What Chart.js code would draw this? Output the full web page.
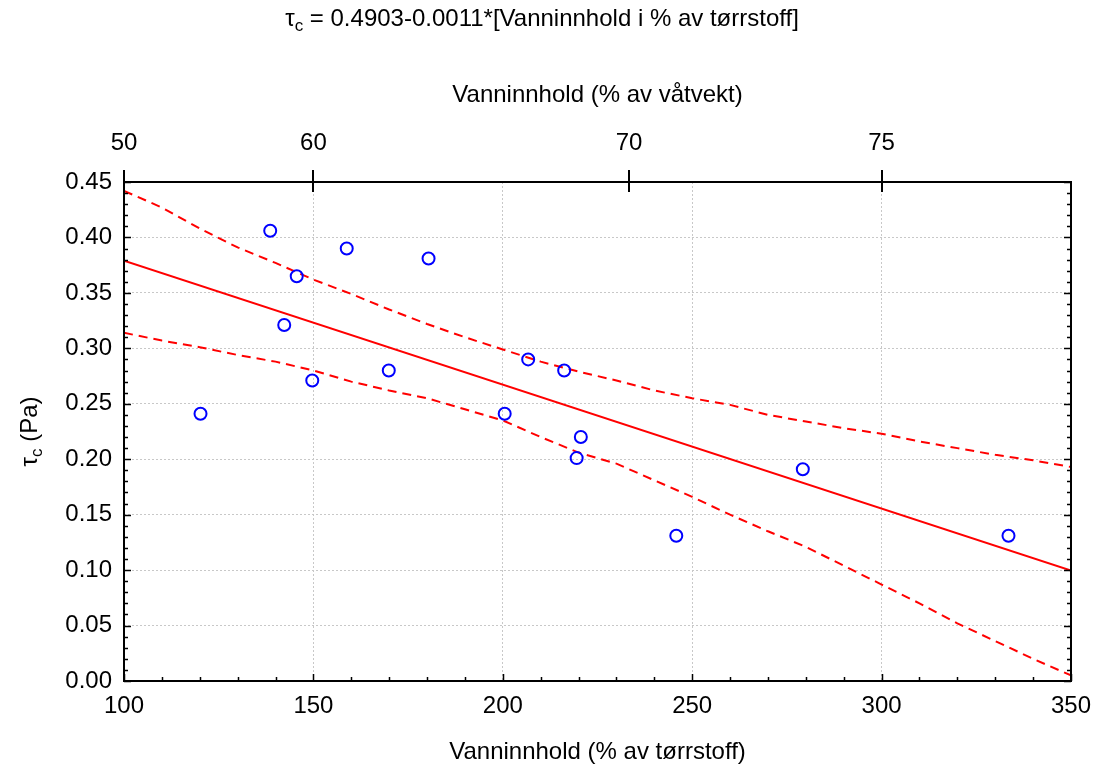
<!DOCTYPE html>
<html>
<head>
<meta charset="utf-8">
<script src="https://cdn.jsdelivr.net/npm/chart.js@4.4.0/dist/chart.umd.min.js"></script>
<style>
  html, body { margin: 0; padding: 0; background: #fff; }
</style>
</head>
<body>
<canvas id="chart" width="1093" height="769"></canvas>
<script>
// measured samples: water content (% of dry matter) vs critical shear stress
const dryContent = [120.2, 138.6, 142.3, 145.6, 149.7, 158.8, 169.9, 180.4, 200.5, 206.7, 216.2, 219.5, 220.6, 245.8, 279.2, 333.5];
const tauC = [0.241, 0.406, 0.321, 0.365, 0.271, 0.390, 0.280, 0.381, 0.241, 0.290, 0.280, 0.201, 0.220, 0.131, 0.191, 0.131];

// regression line end points
const fitX = [100, 350];
const fitY = [0.379, 0.0995];

// 95% confidence band
const bandX = [100, 110, 120, 130, 140, 150, 160, 170, 180, 190, 200, 210, 220, 230, 240, 250, 260, 270, 280, 290, 300, 310, 320, 330, 340, 350];
const upperBand = [0.442, 0.427, 0.408, 0.391, 0.377, 0.362, 0.349, 0.335, 0.322, 0.310, 0.299, 0.288, 0.279, 0.271, 0.262, 0.255, 0.249, 0.240, 0.234, 0.228, 0.223, 0.216, 0.210, 0.204, 0.199, 0.193];
const lowerBand = [0.314, 0.307, 0.301, 0.294, 0.288, 0.280, 0.270, 0.262, 0.255, 0.245, 0.235, 0.220, 0.206, 0.196, 0.181, 0.166, 0.150, 0.135, 0.121, 0.104, 0.087, 0.070, 0.052, 0.036, 0.020, 0.005];

// top axis: water content as % of wet weight
const wetTicks = [50, 60, 70, 75];

const FONT = "'Liberation Sans', Arial, sans-serif";
const FS = 24;
const toPoints = (xs, ys) => xs.map((x, i) => ({ x: x, y: ys[i] }));
const wetToDry = w => w * 100 / (100 - w);

// draws text with a subscript "c" after the tau
function drawTauText(ctx, before, rest, x, y, size) {
  const sub = Math.round(size * 0.7);
  ctx.font = size + "px " + FONT;
  const wTau = ctx.measureText(before).width;
  const wRest = ctx.measureText(rest).width;
  ctx.font = sub + "px " + FONT;
  const wSub = ctx.measureText("c").width;
  let cx = x - (wTau + wSub + wRest) / 2;
  ctx.textAlign = "left";
  ctx.textBaseline = "middle";
  ctx.font = size + "px " + FONT;
  ctx.fillText(before, cx, y);
  cx += wTau;
  ctx.font = sub + "px " + FONT;
  ctx.fillText("c", cx, y + size * 0.3);
  cx += wSub;
  ctx.font = size + "px " + FONT;
  ctx.fillText(rest, cx, y);
}

const framePlugin = {
  id: "frame",
  afterDatasetsDraw(chart) {
    const { ctx, chartArea: a, scales } = chart;
    const x = scales.x, y = scales.y, x2 = scales.x2;
    ctx.save();
    ctx.strokeStyle = "#000";
    ctx.lineWidth = 2;
    ctx.strokeRect(a.left, a.top, a.right - a.left, a.bottom - a.top);

    ctx.lineWidth = 1.5;
    ctx.beginPath();
    // bottom ticks, minor every 10
    for (let v = 100; v <= 350; v += 10) {
      const px = Math.round(x.getPixelForValue(v)) + 0.5;
      const len = v % 50 === 0 ? 7 : 4;
      ctx.moveTo(px, a.bottom);
      ctx.lineTo(px, a.bottom - len);
    }
    // left and right ticks, minor every 0.01
    for (let i = 0; i <= 45; i++) {
      const py = Math.round(y.getPixelForValue(i / 100)) + 0.5;
      const len = i % 5 === 0 ? 7 : 4;
      ctx.moveTo(a.left, py);
      ctx.lineTo(a.left + len, py);
      ctx.moveTo(a.right, py);
      ctx.lineTo(a.right - len, py);
    }
    ctx.stroke();

    // top axis ticks cross the frame line
    ctx.lineWidth = 2;
    ctx.beginPath();
    wetTicks.forEach(w => {
      const px = Math.round(x2.getPixelForValue(wetToDry(w)));
      ctx.moveTo(px, a.top - 12);
      ctx.lineTo(px, a.top + 10);
    });
    ctx.stroke();

    // chart title and y axis title (need the subscript c)
    ctx.fillStyle = "#000";
    drawTauText(ctx, "\u03c4", " = 0.4903-0.0011*[Vanninnhold i % av t\u00f8rrstoff]", 542, 19, FS);
    ctx.translate(30, (a.top + a.bottom) / 2);
    ctx.rotate(-Math.PI / 2);
    drawTauText(ctx, "\u03c4", " (Pa)", 0, 0, FS);
    ctx.restore();
  }
};

Chart.defaults.font.family = FONT;
Chart.defaults.font.size = FS;
Chart.defaults.color = "#000";

new Chart(document.getElementById("chart"), {
  type: "scatter",
  data: {
    datasets: [
      {
        label: "Data",
        data: toPoints(dryContent, tauC),
        pointRadius: 6,
        pointBorderWidth: 2,
        pointBorderColor: "#0000ff",
        pointBackgroundColor: "rgba(255,255,255,0)",
        showLine: false
      },
      {
        label: "Fit",
        data: toPoints(fitX, fitY),
        showLine: true,
        borderColor: "#ff0000",
        borderWidth: 2,
        pointRadius: 0
      },
      {
        label: "Upper 95%",
        data: toPoints(bandX, upperBand),
        showLine: true,
        borderColor: "#ff0000",
        borderWidth: 2,
        borderDash: [9, 6],
        pointRadius: 0
      },
      {
        label: "Lower 95%",
        data: toPoints(bandX, lowerBand),
        showLine: true,
        borderColor: "#ff0000",
        borderWidth: 2,
        borderDash: [9, 6],
        pointRadius: 0
      }
    ]
  },
  options: {
    responsive: false,
    animation: false,
    layout: { padding: { left: 0, right: 22, top: 0, bottom: 0 } },
    plugins: {
      legend: { display: false },
      tooltip: { enabled: false },
      title: { display: false }
    },
    scales: {
      x: {
        type: "linear",
        position: "bottom",
        min: 100,
        max: 350,
        ticks: { stepSize: 50, padding: 11 },
        grid: { color: "#c8c8c8", lineWidth: 1, drawTicks: false },
        border: { display: false, dash: [2, 2] },
        title: {
          display: true,
          text: "Vanninnhold (% av t\u00f8rrstoff)",
          font: { size: FS },
          padding: { top: 0, bottom: 2 }
        },
        afterFit: s => { s.height = 88; s.paddingLeft = 0; s.paddingRight = 0; }
      },
      x2: {
        type: "linear",
        position: "top",
        min: 100,
        max: 350,
        afterBuildTicks: s => { s.ticks = wetTicks.map(w => ({ value: wetToDry(w) })); },
        ticks: {
          padding: 24,
          autoSkip: false,
          callback: (v, i) => wetTicks[i]
        },
        grid: { drawOnChartArea: false, drawTicks: false },
        border: { display: false },
        title: {
          display: true,
          text: "Vanninnhold (% av v\u00e5tvekt)",
          font: { size: FS },
          padding: { top: 81, bottom: 0 }
        },
        afterFit: s => { s.height = 182; s.paddingLeft = 0; s.paddingRight = 0; }
      },
      y: {
        type: "linear",
        min: 0,
        max: 0.45,
        ticks: {
          stepSize: 0.05,
          padding: 12,
          callback: v => v.toFixed(2)
        },
        grid: { color: "#c8c8c8", lineWidth: 1, drawTicks: false },
        border: { display: false, dash: [2, 2] },
        afterFit: s => { s.width = 124; s.paddingTop = 0; s.paddingBottom = 0; }
      }
    }
  },
  plugins: [framePlugin]
});
</script>
</body>
</html>
